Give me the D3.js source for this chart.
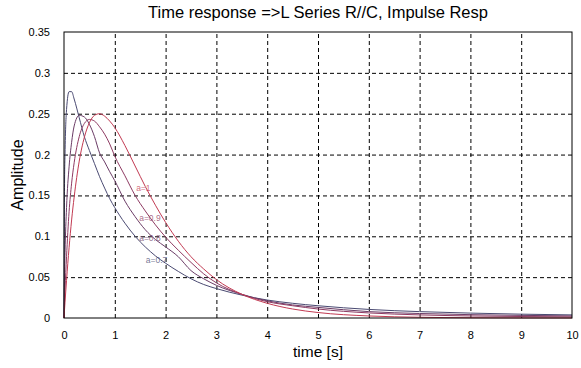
<!DOCTYPE html>
<html>
<head>
<meta charset="utf-8">
<script src="https://cdn.jsdelivr.net/npm/d3@7"></script>
<style>
  body { margin: 0; background: #fff; }
  svg { font-family: "Liberation Sans", Arial, Helvetica, sans-serif; }
  .grid line { stroke: #000; stroke-dasharray: 4,3; stroke-width: 1; }
  .grid path { display: none; }
  .axis path, .axis line { display: none; }
  .axis text { font-size: 11px; fill: #000; }
</style>
</head>
<body>
<div id="chart"></div>
<script>
// time samples [s]
const times = [0, 0.01, 0.02, 0.05, 0.1, 0.15, 0.2, 0.3, 0.4, 0.5, 0.6, 0.7, 0.8, 0.9, 1,
  1.2, 1.4, 1.6, 1.8, 2, 2.25, 2.5, 2.75, 3, 3.5, 4, 4.5, 5, 6, 7, 8, 9, 10];

// amplitudes, one array per order a
const amp07 = [0, 0.16, 0.2, 0.255, 0.277, 0.277, 0.268, 0.245, 0.222, 0.205, 0.189, 0.173, 0.159, 0.146, 0.135,
  0.116, 0.1, 0.087, 0.076, 0.067, 0.057, 0.048, 0.041, 0.036, 0.028, 0.022, 0.018, 0.015, 0.0105, 0.0078, 0.006, 0.0047, 0.0038];
const amp08 = [0, 0.05, 0.08, 0.135, 0.185, 0.215, 0.235, 0.248, 0.246, 0.237, 0.222, 0.202, 0.191, 0.179, 0.168,
  0.143, 0.124, 0.108, 0.096, 0.087, 0.075, 0.058, 0.048, 0.04, 0.029, 0.021, 0.016, 0.013, 0.0078, 0.0055, 0.0041, 0.0032, 0.0026];
const amp09 = [0, 0.02, 0.035, 0.075, 0.13, 0.165, 0.19, 0.222, 0.238, 0.243, 0.241, 0.234, 0.225, 0.213, 0.198,
  0.174, 0.15, 0.131, 0.114, 0.099, 0.083, 0.068, 0.054, 0.043, 0.029, 0.02, 0.015, 0.011, 0.0062, 0.0038, 0.0025, 0.0018, 0.0014];
const amp10 = [0, 0.0099, 0.0194, 0.046, 0.086, 0.12, 0.148, 0.192, 0.221, 0.239, 0.248, 0.25, 0.247, 0.241, 0.233,
  0.211, 0.186, 0.161, 0.138, 0.117, 0.094, 0.075, 0.06, 0.047, 0.029, 0.018, 0.011, 0.0067, 0.0025, 0.0009, 0.0003, 0.0001, 0.00005];

const seriesNames = ["a=0.7", "a=0.8", "a=0.9", "a=1"];
const seriesColors = ["#4a4a72", "#6b3c66", "#8e3a62", "#c23a52"];
// where each label sits on its curve [t, amplitude]
const labelPos = [[1.61, 0.071], [1.48, 0.098], [1.48, 0.122], [1.42, 0.159]];

const xTicks = [0, 1, 2, 3, 4, 5, 6, 7, 8, 9, 10];
const yTicks = [0, 0.05, 0.1, 0.15, 0.2, 0.25, 0.3, 0.35];

const width = 581, height = 368;
const margin = { left: 64, right: 9, top: 32, bottom: 50 };

const svg = d3.select("#chart").append("svg")
  .attr("width", width)
  .attr("height", height);

const xScale = d3.scaleLinear().domain([0, 10]).range([margin.left, width - margin.right]);
const yScale = d3.scaleLinear().domain([0, 0.35]).range([height - margin.bottom, margin.top]);

// grid
svg.append("g")
  .attr("class", "grid")
  .attr("transform", "translate(0," + (height - margin.bottom) + ")")
  .call(d3.axisBottom(xScale).tickValues(xTicks.slice(1, -1))
    .tickSize(-(height - margin.top - margin.bottom)).tickFormat(""));

svg.append("g")
  .attr("class", "grid")
  .attr("transform", "translate(" + margin.left + ",0)")
  .call(d3.axisLeft(yScale).tickValues(yTicks.slice(1, -1))
    .tickSize(-(width - margin.left - margin.right)).tickFormat(""));

// axes labels
svg.append("g")
  .attr("class", "axis")
  .attr("transform", "translate(0," + (height - margin.bottom + 4) + ")")
  .call(d3.axisBottom(xScale).tickValues(xTicks).tickFormat(d3.format("d")));

svg.append("g")
  .attr("class", "axis")
  .attr("transform", "translate(" + (margin.left - 5) + ",0)")
  .call(d3.axisLeft(yScale).tickValues(yTicks).tickFormat(d => d === 0 ? "0" : String(+d.toFixed(2))));

// curves
const line = d3.line()
  .x((d, i) => xScale(times[i]))
  .y(d => yScale(d))
  .curve(d3.curveMonotoneX);

[amp07, amp08, amp09, amp10].forEach((vals, k) => {
  svg.append("path")
    .datum(vals)
    .attr("fill", "none")
    .attr("stroke", seriesColors[k])
    .attr("stroke-width", 1)
    .attr("d", line);
});

// box
svg.append("rect")
  .attr("x", margin.left)
  .attr("y", margin.top)
  .attr("width", width - margin.left - margin.right)
  .attr("height", height - margin.top - margin.bottom)
  .attr("fill", "none")
  .attr("stroke", "#000")
  .attr("stroke-width", 1);

// curve labels
labelPos.forEach((p, k) => {
  svg.append("text")
    .attr("x", xScale(p[0]))
    .attr("y", yScale(p[1]))
    .attr("dy", "0.35em")
    .attr("font-size", "8.5px")
    .attr("fill", seriesColors[k])
    .attr("fill-opacity", 0.75)
    .text(seriesNames[k]);
});

// title and axis titles
svg.append("text")
  .attr("x", (margin.left + width - margin.right) / 2)
  .attr("y", 18)
  .attr("text-anchor", "middle")
  .attr("font-size", "16.5px")
  .text("Time response =>L Series R//C, Impulse Resp");

svg.append("text")
  .attr("transform", "rotate(-90)")
  .attr("x", -(margin.top + height - margin.bottom) / 2)
  .attr("y", 23)
  .attr("text-anchor", "middle")
  .attr("font-size", "16px")
  .text("Amplitude");

svg.append("text")
  .attr("x", (margin.left + width - margin.right) / 2)
  .attr("y", 357)
  .attr("text-anchor", "middle")
  .attr("font-size", "15.5px")
  .text("time [s]");
</script>
</body>
</html>
